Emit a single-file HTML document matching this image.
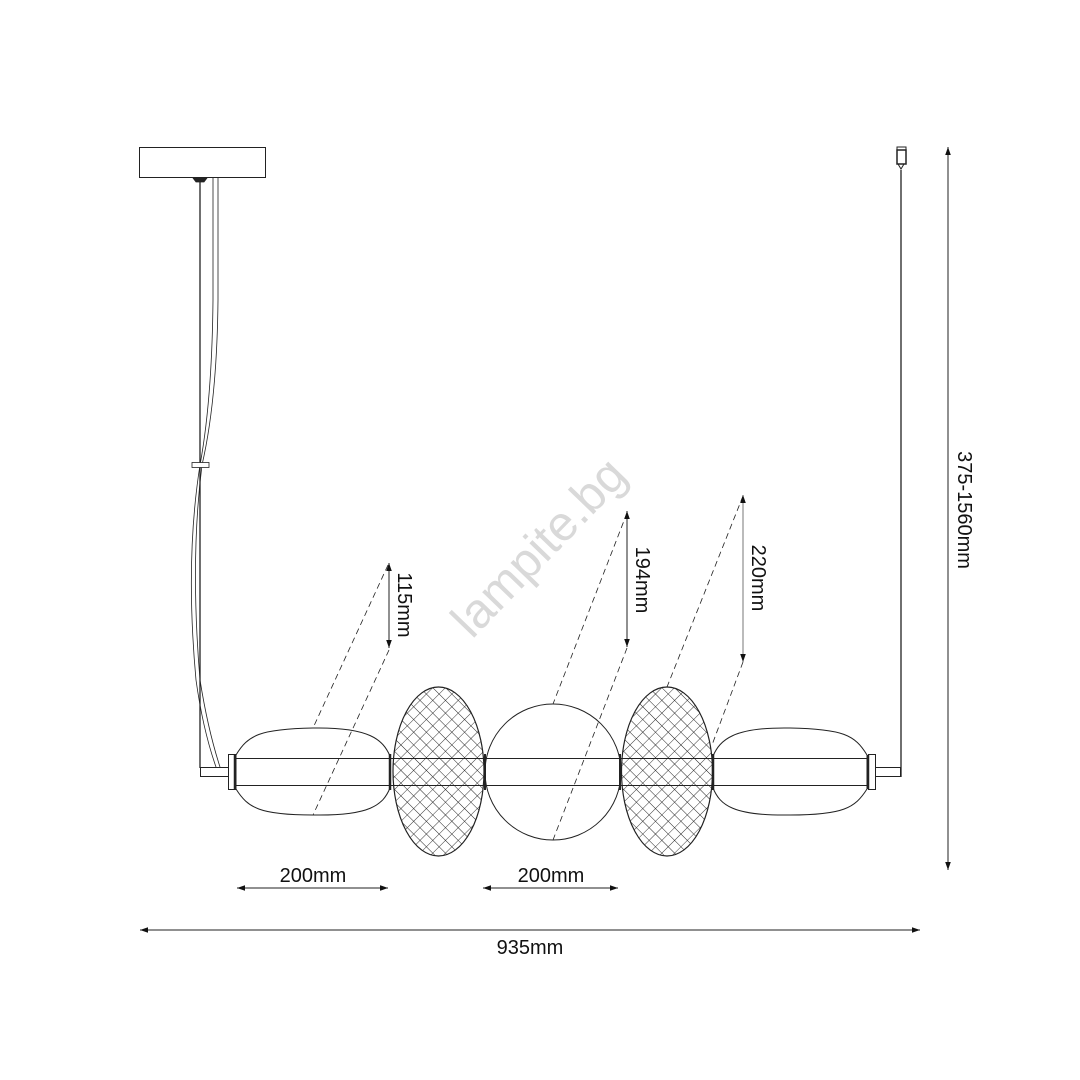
<!DOCTYPE html>
<html><head><meta charset="utf-8"><style>
html,body{margin:0;padding:0;background:#fff;}
svg{display:block;}
text{font-family:"Liberation Sans",sans-serif;fill:#111;}
</style></head><body>
<svg width="1080" height="1080" viewBox="0 0 1080 1080" xmlns="http://www.w3.org/2000/svg">
<defs>
<pattern id="mesh" width="9" height="9" patternUnits="userSpaceOnUse" patternTransform="rotate(45)">
<path d="M0 0H9M0 0V9" stroke="#222" stroke-width="0.9" fill="none"/>
</pattern>
<marker id="ar" viewBox="0 0 10 10" refX="10" refY="5" markerWidth="8" markerHeight="8" orient="auto-start-reverse" markerUnits="userSpaceOnUse">
<path d="M0 1.5L10 5L0 8.5z" fill="#111"/>
</marker>
</defs>
<!-- watermark -->
<text x="0" y="0" font-size="49" style="fill:#d9d9d9" transform="translate(472,640) rotate(-46)">lampite.bg</text>

<g stroke="#222" fill="none" stroke-width="1">
<rect x="139.5" y="147.5" width="126" height="30" fill="#fff"/>
<path d="M193 178h14l-3 4h-8z" fill="#222" stroke-width="0.8"/>
<line x1="200" y1="182" x2="200" y2="768" stroke-width="1.3"/>
<path d="M213 178 L213 300 Q212 400 200 465 Q185 560 196 680 Q203 730 216 767" stroke-width="0.8"/>
<path d="M218 178 L218 300 Q217 400 202 465 Q190 560 200 680 Q208 730 220 767" stroke-width="0.8"/>
<rect x="192" y="462.5" width="17" height="5" fill="#fff" stroke-width="0.8"/>
<rect x="200.5" y="767.5" width="28" height="9" fill="#fff"/>
<rect x="228.5" y="754.5" width="7" height="35" fill="#fff"/>
<line x1="235" y1="755" x2="235" y2="789" stroke-width="2.5"/>
<rect x="875.5" y="767.5" width="25" height="9" fill="#fff"/>
<rect x="868.5" y="754.5" width="7" height="35" fill="#fff"/>
<line x1="868" y1="755" x2="868" y2="789" stroke-width="2.5"/>
<line x1="901" y1="170" x2="901" y2="777" stroke-width="1.3"/>
<rect x="897" y="147" width="9" height="3" fill="#fff"/>
<rect x="897" y="150" width="9" height="14" fill="#fff" stroke-width="1.5"/>
<path d="M898 164l3 5l3-5" />
<path d="M236 755 C248 735 260 729 313 728 C370 727 383 740 390 756 L390 788 C383 805 370 816 313 815 C260 815 248 808 236 789 Z" fill="#fff"/>
<path d="M713 756 C720 740 733 727 790 728 C843 729 855 735 867 755 L867 789 C855 808 843 815 790 815 C733 816 720 805 713 788 Z" fill="#fff"/>
<circle cx="553" cy="772" r="68" fill="#fff"/>
<ellipse cx="438.5" cy="771.5" rx="45.5" ry="84.5" fill="url(#mesh)" stroke-width="1.2"/>
<ellipse cx="667" cy="771.5" rx="45.5" ry="84.5" fill="url(#mesh)" stroke-width="1.2"/>
<line x1="236" y1="758.5" x2="868" y2="758.5"/>
<line x1="236" y1="785.5" x2="868" y2="785.5"/>
<line x1="390" y1="754" x2="390" y2="790" stroke-width="2.5"/>
<line x1="485" y1="754" x2="485" y2="790" stroke-width="2"/>
<line x1="620" y1="754" x2="620" y2="790" stroke-width="2"/>
<line x1="713" y1="754" x2="713" y2="790" stroke-width="2.5"/>
</g>

<g stroke="#222" stroke-width="0.8" stroke-dasharray="6 4" fill="none">
<line x1="388" y1="565" x2="313" y2="728"/>
<line x1="389" y1="650" x2="313" y2="815"/>
<line x1="627" y1="513" x2="553" y2="704"/>
<line x1="627" y1="648" x2="553" y2="840"/>
<line x1="743" y1="496" x2="667" y2="687"/>
<line x1="743" y1="662" x2="712" y2="745"/>
</g>

<g stroke="#222" stroke-width="1" fill="none">
<line x1="389" y1="563" x2="389" y2="648" marker-start="url(#ar)" marker-end="url(#ar)"/>
<line x1="627" y1="511" x2="627" y2="647" marker-start="url(#ar)" marker-end="url(#ar)"/>
<line x1="743" y1="495" x2="743" y2="662" marker-start="url(#ar)" marker-end="url(#ar)" stroke="#777"/>
<line x1="948" y1="147" x2="948" y2="870" marker-start="url(#ar)" marker-end="url(#ar)"/>
<line x1="237" y1="888" x2="388" y2="888" marker-start="url(#ar)" marker-end="url(#ar)"/>
<line x1="483" y1="888" x2="618" y2="888" marker-start="url(#ar)" marker-end="url(#ar)"/>
<line x1="140" y1="930" x2="920" y2="930" marker-start="url(#ar)" marker-end="url(#ar)"/>
</g>

<g font-size="20">
<text x="313" y="882" text-anchor="middle">200mm</text>
<text x="551" y="882" text-anchor="middle">200mm</text>
<text x="530" y="954" text-anchor="middle">935mm</text>
<text transform="translate(398,605) rotate(90)" text-anchor="middle">115mm</text>
<text transform="translate(636,580) rotate(90)" text-anchor="middle">194mm</text>
<text transform="translate(752,578) rotate(90)" text-anchor="middle">220mm</text>
<text transform="translate(958,510) rotate(90)" text-anchor="middle">375-1560mm</text>
</g>
</svg>
</body></html>
